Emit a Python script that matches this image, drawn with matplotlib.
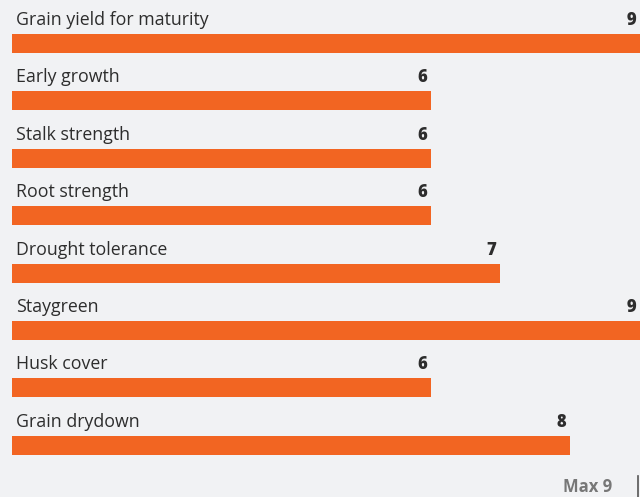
import matplotlib
matplotlib.use("Agg")
import matplotlib.pyplot as plt

traits = ["Grain yield for maturity", "Early growth", "Stalk strength", "Root strength",
          "Drought tolerance", "Staygreen", "Husk cover", "Grain drydown"]
scores = [9, 6, 6, 6, 7, 9, 6, 8]
max_score = 9

BG = "#f1f2f4"
BAR = "#f26522"
TXT = "#2d2d2d"
GREY = "#777777"

W, H, DPI = 640, 497, 100
fig = plt.figure(figsize=(W / DPI, H / DPI), dpi=DPI, facecolor=BG)

# axes spans the full figure height; one data unit per row (57.4 px pitch)
pitch = 57.4
first_center = 43.5
left_px = 12
ax = fig.add_axes([left_px / W, 0, 1 - left_px / W, 1])
ax.set_facecolor(BG)
ax.set_xlim(0, max_score)
ax.set_ylim((H - first_center) / pitch, -first_center / pitch)
ax.axis("off")

bar_h = 19 / pitch
ys = list(range(len(traits)))
ax.barh(ys, scores, height=bar_h, color=BAR, edgecolor="none")

px = max_score / (W - left_px)  # data units per pixel in x
for y, name, v in zip(ys, traits, scores):
    ax.text(4 * px, y - 18.5 / pitch, name, ha="left", va="baseline",
            fontsize=12.8, family="Open Sans", color=TXT)
    ax.text(v - 4 * px, y - 18.5 / pitch, str(v), ha="right", va="baseline",
            fontsize=12, family="Open Sans", fontweight="heavy", color=TXT)

fig.text(612 / W, 1 - 492 / H, f"Max {max_score}", ha="right", va="baseline",
         fontsize=12, family="Open Sans", fontweight="bold", color=GREY)
fig.add_artist(plt.Line2D([638 / W, 638 / W], [0, 1 - 476 / H],
                          color="#555555", lw=1.2))

fig.savefig("out.png", dpi=DPI, facecolor=BG)
